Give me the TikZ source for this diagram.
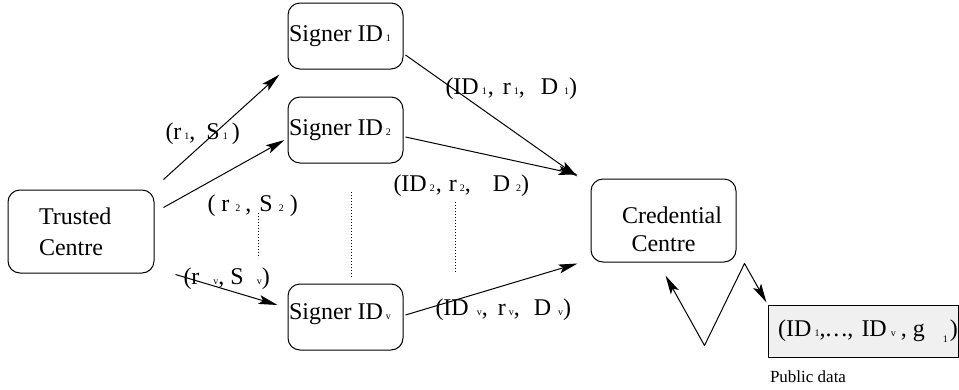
\documentclass[tikz,border=0pt]{standalone}
\usepackage{fontspec}
\setmainfont{Liberation Serif}
\usetikzlibrary{arrows.meta}
\newcommand{\lo}[1]{{\fontsize{10}{10}\selectfont#1}}
\begin{document}
\begin{tikzpicture}[x=1pt,y=-1pt,>={Stealth[length=19pt,width=9pt,inset=4pt]},line join=round,line width=1pt,
  font=\fontsize{24}{31}\selectfont,
  box/.style={draw,rounded corners=12pt,inner sep=0pt},
  signer/.style={box,minimum width=115,minimum height=66},
  lbl/.style={inner sep=0pt,anchor=base west}]
\useasboundingbox (0,0) rectangle (959,389);
\node[box,minimum width=146,minimum height=83,text width=84,align=left] (tc) at (81,231.5) {Trusted\\Centre};
\node[signer] (s1) at (345.5,36) {Signer ID\kern3pt\lo{1}\hspace*{11pt}};
\node[signer] (s2) at (345.5,130) {\raisebox{4pt}{Signer ID\kern3pt\lo{2}}\hspace*{11pt}};
\node[signer] (sv) at (345.5,317) {\raisebox{10pt}{Signer ID\kern3pt\lo{v}}\hspace*{11pt}};
\node[box,minimum width=145,minimum height=83] (cc) at (663.5,220.5)
  {\raisebox{-17pt}[0pt][0pt]{\begin{tabular}{@{}c@{}}\hspace*{17pt}Credential\\[-3pt]Centre\end{tabular}}};
\node[draw,fill=black!6,minimum width=190,minimum height=52,inner sep=0pt] (pd) at (863,331)
  {\raisebox{5pt}{(ID\kern3pt\lo{1},.\kern2pt.\kern2pt.,\kern8pt ID\kern4pt\lo{v}\kern5pt,\kern6pt g\kern18pt\raisebox{-6pt}{\lo{1}}\kern2pt)}\hspace*{-10pt}};
\node[lbl,font=\fontsize{17}{20}\selectfont] (pdl) at ([shift={(2,25)}]pd.south west) {Public data};
\draw[->] ([shift={(9,-10)}]tc.north east) -- ([shift={(-8,5)}]s1.south west);
\draw[->] ([shift={(9,18)}]tc.north east) -- ([shift={(-3,10)}]s2.west);
\draw[->] ([shift={(21,1)}]tc.south east) -- ([shift={(-10,-12)}]sv.west);
\draw[->] ([shift={(2,19)}]s1.east) -- ([shift={(-13,-2)}]cc.north west);
\draw[->] ([shift={(2,7)}]s2.east) -- ([shift={(-13,-4)}]cc.north west);
\draw[->] ([shift={(2,-2)}]sv.east) -- ([shift={(-13,1)}]cc.south west);
\draw[<->] ([shift={(2,13)}]cc.south) -- ++(39,70) -- ++(40,-82) -- ([shift={(-1,-2)}]pd.north west);
\node[lbl] (l1) at (165,139) {(r\kern3pt\lo{1},\kern11pt S\kern3pt\lo{1}\kern4pt)};
\node[lbl] (l2) at (207,211) {(\kern6pt r\kern6pt\lo{2}\kern5pt,\kern8pt S\kern6pt\lo{2}\kern6pt)};
\node[lbl] (lv) at (183,284) {(r\kern14pt\lo{v},\kern6pt S\kern13pt\lo{v})};
\node[lbl] (m1) at (445,94) {(ID\kern3pt\lo{1}\kern1pt,\kern9pt r\kern3pt\lo{1},\kern16pt D\kern6pt\lo{1})};
\node[lbl] (m2) at (393,191) {(ID\kern3pt\lo{2}\kern1pt,\kern7pt r\kern3pt\lo{2},\kern22pt D\kern6pt\lo{2})};
\node[lbl] (mv) at (435,315) {(ID\kern8pt\lo{v},\kern10pt r\kern3pt\lo{v},\kern14pt D\kern7pt\lo{v})};
\foreach \x/\a/\b in {258/213/258,351/192/278,455/202/272}
  \draw[dotted] (\x,\a) -- (\x,\b);
\end{tikzpicture}
\end{document}
